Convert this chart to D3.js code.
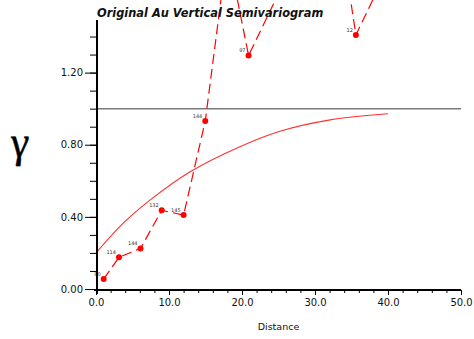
<!DOCTYPE html>
<html>
<head>
<meta charset="utf-8">
<script src="https://cdn.jsdelivr.net/npm/d3@7"></script>
<style>
  html, body { margin: 0; padding: 0; background: #fff; }
  svg { display: block; }
</style>
</head>
<body>
<svg id="chart" width="474" height="339"></svg>
<script>
// Experimental semivariogram: lag distance, gamma value and pair count per lag
const lagDistance = [1.05, 3.15, 6.1, 9.0, 12.0, 14.97, 18.0, 20.9, 32.4, 35.6, 38.6];
const gammaValue  = [0.055, 0.176, 0.225, 0.436, 0.41, 0.932, 1.88, 1.295, 2.26, 1.409, 1.66];
const pairCount   = ["80", "114", "144", "132", "145", "144", null, "97", null, "12", null];

// Fitted model curve, sampled at these distances
const modelDistance = [0, 3.7, 7.4, 12.9, 19.7, 25.2, 32.1, 40];
const modelGamma    = [0.20, 0.364, 0.493, 0.65, 0.789, 0.875, 0.938, 0.972];

// Sill reference level
const sillValue = 1.0;

// Axis ticks
const xMajorTicks = [0, 10, 20, 30, 40, 50];
const xMinorTicks = d3.range(0, 51, 2);
const yMajorTicks = [0, 0.4, 0.8, 1.2];
const yMinorTicks = d3.range(0, 15).map(i => i / 10);

const titleText = "Original Au Vertical Semivariogram";
const xTitle = "Distance";
const yTitle = "\u03B3";

const svg = d3.select("#chart");

const x = d3.scaleLinear().domain([0, 50]).range([96, 461]);
const y = d3.scaleLinear().domain([0, 1.5]).range([289, 18.5]);

const red = "#ff0000";
const tickFont = "DejaVu Sans, sans-serif";

// Sill line
svg.append("line")
  .attr("x1", x(0)).attr("x2", x(50))
  .attr("y1", y(sillValue)).attr("y2", y(sillValue))
  .attr("stroke", "#7a7a7a").attr("stroke-width", 1.5);

// Model curve
const model = modelDistance.map((d, i) => ({ h: d, g: modelGamma[i] }));
svg.append("path")
  .datum(model)
  .attr("fill", "none")
  .attr("stroke", "#ff3030")
  .attr("stroke-width", 1.1)
  .attr("d", d3.line().x(d => x(d.h)).y(d => y(d.g)).curve(d3.curveCatmullRom.alpha(0.5)));

// Experimental points joined by a dashed line
const pts = lagDistance.map((d, i) => ({ h: d, g: gammaValue[i], n: pairCount[i] }));
svg.append("path")
  .datum(pts)
  .attr("fill", "none")
  .attr("stroke", red)
  .attr("stroke-width", 1.2)
  .attr("stroke-dasharray", "10,5")
  .attr("d", d3.line().x(d => x(d.h)).y(d => y(d.g)));

const visible = pts.filter(d => d.g <= y.domain()[1]);

svg.append("g").selectAll("circle")
  .data(visible)
  .join("circle")
  .attr("cx", d => x(d.h))
  .attr("cy", d => y(d.g))
  .attr("r", 3)
  .attr("fill", red);

svg.append("g").selectAll("text")
  .data(visible.filter(d => d.n))
  .join("text")
  .attr("x", d => x(d.h) - 3)
  .attr("y", d => y(d.g) - 3)
  .attr("text-anchor", "end")
  .attr("font-family", tickFont)
  .attr("font-size", 5)
  .attr("fill", "#333")
  .text(d => d.n);

// Y axis
const yAxisMinor = svg.append("g")
  .attr("transform", `translate(${x(0)},0)`)
  .call(d3.axisLeft(y).tickValues(yMinorTicks).tickSize(6).tickSizeOuter(0).tickFormat(""));
yAxisMinor.select(".domain").remove();

const yAxis = svg.append("g")
  .attr("transform", `translate(${x(0)},0)`)
  .call(d3.axisLeft(y).tickValues(yMajorTicks).tickSize(11).tickSizeOuter(0)
        .tickPadding(2).tickFormat(d3.format(".2f")));
yAxis.select(".domain").remove();
yAxis.selectAll("text").attr("font-family", tickFont).attr("font-size", 10).attr("fill", "#111");

// X axis
const xAxisMinor = svg.append("g")
  .attr("transform", `translate(0,${y(0) + 1})`)
  .call(d3.axisBottom(x).tickValues(xMinorTicks).tickSize(3).tickSizeOuter(0).tickFormat(""));
xAxisMinor.select(".domain").remove();

const xAxis = svg.append("g")
  .attr("transform", `translate(0,${y(0) + 1})`)
  .call(d3.axisBottom(x).tickValues(xMajorTicks).tickSize(5).tickSizeOuter(0)
        .tickPadding(4).tickFormat(d3.format(".1f")));
xAxis.select(".domain").remove();
xAxis.selectAll("text").attr("font-family", tickFont).attr("font-size", 10).attr("fill", "#111");
svg.selectAll("g.tick line").attr("stroke", "#000").attr("stroke-width", 1);

// Axis lines
svg.append("line")
  .attr("x1", x(0) + 1).attr("x2", x(0) + 1)
  .attr("y1", y.range()[1] + 1.5).attr("y2", y(0) + 5)
  .attr("stroke", "#000").attr("stroke-width", 2);
svg.append("line")
  .attr("x1", x(0) - 2).attr("x2", x(50))
  .attr("y1", y(0) + 1).attr("y2", y(0) + 1)
  .attr("stroke", "#000").attr("stroke-width", 2);

// Titles
svg.append("text")
  .attr("x", x(0) + 1)
  .attr("y", 16.5)
  .attr("font-family", tickFont)
  .attr("font-weight", "bold")
  .attr("font-style", "italic")
  .attr("font-size", 11.4)
  .attr("fill", "#111")
  .text(titleText);

svg.append("text")
  .attr("x", (x(0) + x(50)) / 2)
  .attr("y", 330)
  .attr("text-anchor", "middle")
  .attr("font-family", tickFont)
  .attr("font-size", 9.5)
  .attr("fill", "#111")
  .text(xTitle);

// Gamma symbol, italic glyph with its slant reduced
svg.append("text")
  .attr("transform", "translate(21,157) skewX(6)")
  .attr("text-anchor", "middle")
  .attr("font-family", "Liberation Serif, serif")
  .attr("font-style", "italic")
  .attr("font-size", 44)
  .attr("stroke", "#000")
  .attr("stroke-width", 0.4)
  .attr("fill", "#000")
  .text(yTitle);
</script>
</body>
</html>
